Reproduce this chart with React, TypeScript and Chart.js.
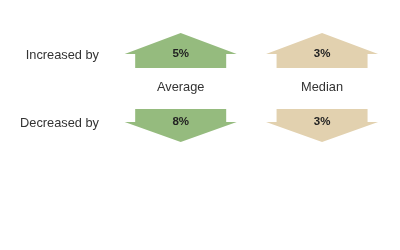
import React, { useEffect, useRef } from "react";
import { Chart, registerables } from "chart.js";

Chart.register(...registerables);

const COLUMNS = ["Average", "Median"];
const ROWS = ["Increased by", "", "Decreased by"];
const INCREASED = [5, 3];
const DECREASED = [8, 3];

const COLUMN_COLORS = ["#95bb7e", "#e2d1af"];
const FONT = "'Liberation Sans', Arial, Helvetica, sans-serif";

const arrowPlugin = {
  id: "arrows",
  afterDatasetsDraw(chart: any) {
    const ctx = chart.ctx;
    chart.data.datasets.forEach((ds: any, di: number) => {
      const meta = chart.getDatasetMeta(di);
      const up = ds.direction === "up";
      meta.data.forEach((pt: any, i: number) => {
        const x = pt.x;
        const y = pt.y;
        const hw = 56;
        const sw = 45.5;
        const base = y - 1;
        ctx.save();
        ctx.fillStyle = COLUMN_COLORS[i];
        ctx.beginPath();
        if (up) {
          ctx.moveTo(x, y - 22);
          ctx.lineTo(x + hw, base);
          ctx.lineTo(x + sw, base);
          ctx.lineTo(x + sw, y + 13);
          ctx.lineTo(x - sw, y + 13);
          ctx.lineTo(x - sw, base);
          ctx.lineTo(x - hw, base);
        } else {
          ctx.moveTo(x, y + 19);
          ctx.lineTo(x + hw, base);
          ctx.lineTo(x + sw, base);
          ctx.lineTo(x + sw, y - 14);
          ctx.lineTo(x - sw, y - 14);
          ctx.lineTo(x - sw, base);
          ctx.lineTo(x - hw, base);
        }
        ctx.closePath();
        ctx.fill();
        ctx.fillStyle = "#222";
        ctx.font = `bold 11.5px ${FONT}`;
        ctx.textAlign = "center";
        ctx.textBaseline = "middle";
        ctx.fillText(`${ds.values[i]}%`, x, y - 1);
        ctx.restore();
      });
    });
    const xs = chart.scales.x;
    const ys = chart.scales.y;
    const midY = ys.getPixelForValue(1) - 1.5;
    ctx.save();
    ctx.fillStyle = "#333";
    ctx.font = `12.8px ${FONT}`;
    ctx.textAlign = "center";
    ctx.textBaseline = "middle";
    COLUMNS.forEach((c, i) => {
      ctx.fillText(c, xs.getPixelForValue(i), midY);
    });
    ctx.restore();
  },
};

export default function App() {
  const ref = useRef<HTMLCanvasElement>(null);
  useEffect(() => {
    if (!ref.current) return;
    const chart = new Chart(ref.current, {
      type: "line",
      data: {
        labels: COLUMNS,
        datasets: [
          {
            label: "Increased",
            direction: "up",
            values: INCREASED,
            data: COLUMNS.map((c) => ({ x: c, y: ROWS[0] })),
            showLine: false,
            pointRadius: 0,
            pointHoverRadius: 0,
          } as any,
          {
            label: "Decreased",
            direction: "down",
            values: DECREASED,
            data: COLUMNS.map((c) => ({ x: c, y: ROWS[2] })),
            showLine: false,
            pointRadius: 0,
            pointHoverRadius: 0,
          } as any,
        ],
      },
      options: {
        responsive: false,
        animation: false,
        events: [],
        layout: { padding: { top: 38, bottom: 110, left: 0, right: 7.25 } },
        plugins: { legend: { display: false }, tooltip: { enabled: false } },
        scales: {
          x: { type: "category", labels: COLUMNS, offset: true, display: false },
          y: {
            type: "category",
            labels: ROWS,
            offset: true,
            border: { display: false },
            grid: { display: false, drawTicks: false },
            ticks: {
              padding: 11,
              color: "#333",
              font: { family: FONT, size: 12.8 },
            },
            afterFit: (scale: any) => {
              scale.width = 110;
            },
          },
        },
      },
      plugins: [arrowPlugin],
    });
    return () => chart.destroy();
  }, []);
  return (
    <div style={{ position: "fixed", left: 0, top: 0, width: 400, height: 250, background: "#fff" }}>
      <canvas ref={ref} width={400} height={250} style={{ display: "block" }} />
    </div>
  );
}
